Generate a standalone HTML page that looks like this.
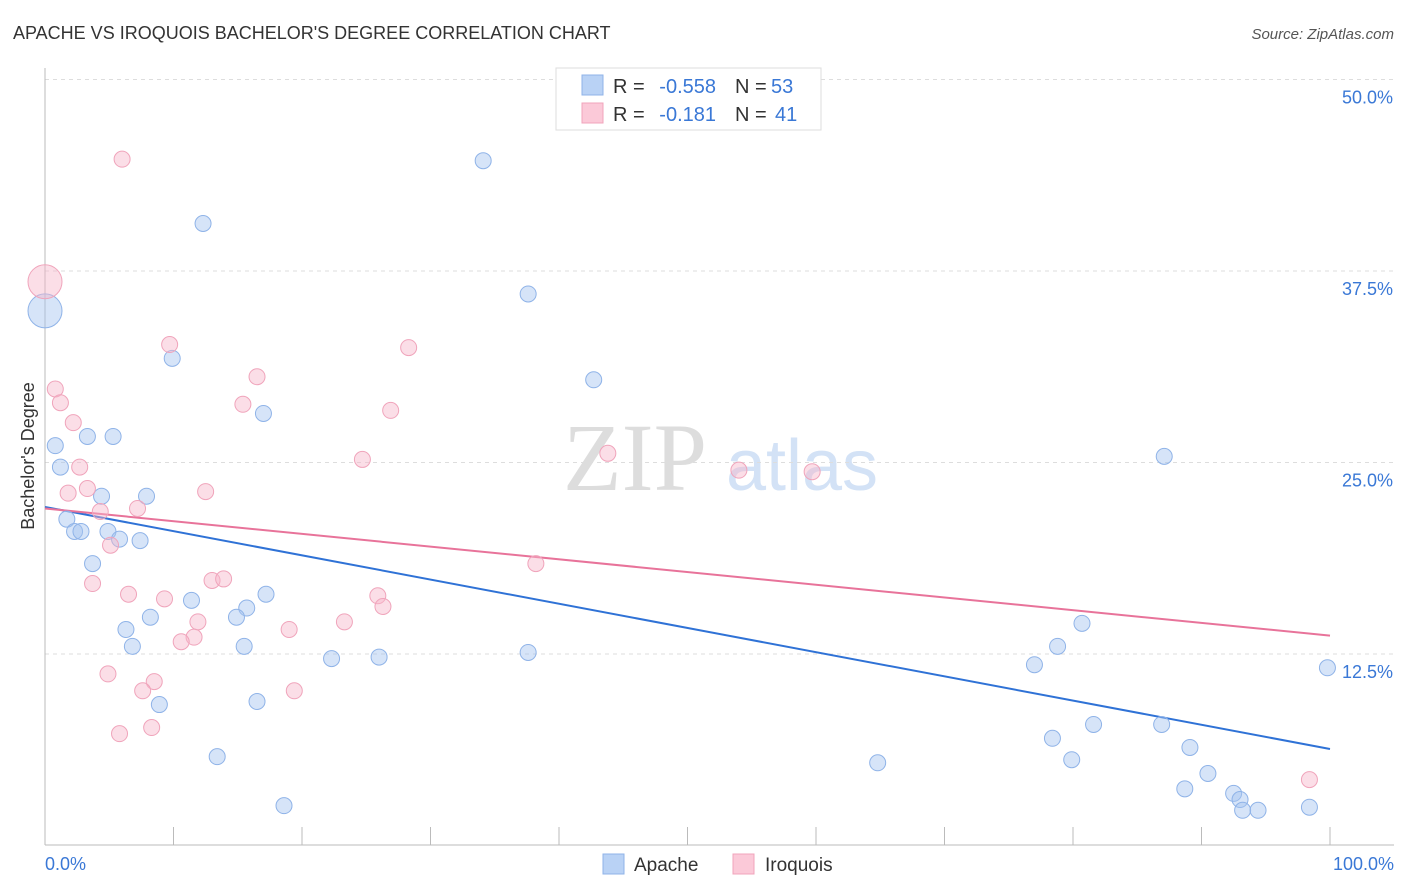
<!DOCTYPE html>
<html><head><meta charset="utf-8"><style>
body{margin:0;background:#fff;font-family:"Liberation Sans",sans-serif}
svg{display:block}
</style></head><body>
<svg id="chart" width="1406" height="892">
<text x="13" y="39" font-size="18" fill="#333">APACHE VS IROQUOIS BACHELOR'S DEGREE CORRELATION CHART</text>
<text x="1394" y="39" font-size="15" fill="#555" font-style="italic" text-anchor="end">Source: ZipAtlas.com</text>
<text x="635" y="490" font-size="96" fill="#ddd" font-family="Liberation Serif,serif" text-anchor="middle">ZIP</text>
<text x="802" y="490" font-size="72" fill="#d3e2f6" text-anchor="middle">atlas</text>
<text transform="translate(34,456) rotate(-90)" font-size="18" fill="#333" text-anchor="middle">Bachelor's Degree</text>
<g id="grid"></g><g id="lines"></g><g id="pts"></g>
<g>
<rect x="556" y="68" width="265" height="62" fill="#fff" stroke="#ddd"/>
<rect x="582" y="75" width="21" height="20" fill="#b9d2f5" stroke="#8fb3e8"/>
<rect x="582" y="103" width="21" height="20" fill="#fbc9d8" stroke="#f0a4bb"/>
<text x="613" y="93" font-size="20" fill="#333">R =</text>
<text x="716" y="93" font-size="20" fill="#3a78d6" text-anchor="end">-0.558</text>
<text x="735" y="93" font-size="20" fill="#333">N =</text>
<text x="771" y="93" font-size="20" fill="#3a78d6">53</text>
<text x="613" y="121" font-size="20" fill="#333">R =</text>
<text x="716" y="121" font-size="20" fill="#3a78d6" text-anchor="end">-0.181</text>
<text x="735" y="121" font-size="20" fill="#333">N =</text>
<text x="775" y="121" font-size="20" fill="#3a78d6">41</text>
</g>
<g>
<rect x="603" y="854" width="21" height="20" fill="#b9d2f5" stroke="#8fb3e8"/>
<text x="634" y="871" font-size="19" fill="#333">Apache</text>
<rect x="733" y="854" width="21" height="20" fill="#fbc9d8" stroke="#f0a4bb"/>
<text x="765" y="871" font-size="19" fill="#333">Iroquois</text>
</g>
</svg>
<script>
const yTicks=[12.5,25,37.5,50];
const yTickLabels=["12.5%","25.0%","37.5%","50.0%"];
const apacheX=[0,34.1,12.3,37.6,9.9,42.7,17.0,0.8,3.3,5.3,1.2,4.4,7.9,1.7,2.3,2.8,4.9,5.8,7.4,3.7,17.2,11.4,15.7,14.9,8.2,6.3,6.8,15.5,22.3,26.0,37.6,8.9,16.5,13.4,18.6,64.8,87.1,80.7,78.8,77.0,99.8,81.6,86.9,78.4,79.9,89.1,90.5,88.7,92.5,93.0,93.2,94.4,98.4];
const apacheY=[34.9,44.7,40.6,36.0,31.8,30.4,28.2,26.1,26.7,26.7,24.7,22.8,22.8,21.3,20.5,20.5,20.5,20.0,19.9,18.4,16.4,16.0,15.5,14.9,14.9,14.1,13.0,13.0,12.2,12.3,12.6,9.2,9.4,5.8,2.6,5.4,25.4,14.5,13.0,11.8,11.6,7.9,7.9,7.0,5.6,6.4,4.7,3.7,3.4,3.0,2.3,2.3,2.5];
const iroqX=[0,6.0,9.7,28.3,16.5,0.8,1.2,15.4,26.9,2.2,2.7,24.7,43.8,54.0,59.7,3.3,1.8,12.5,4.3,7.2,5.1,38.2,3.7,13.0,13.9,6.5,9.3,25.9,26.3,11.9,23.3,19.0,11.6,10.6,4.9,8.5,7.6,19.4,8.3,5.8,98.4];
const iroqY=[36.8,44.8,32.7,32.5,30.6,29.8,28.9,28.8,28.4,27.6,24.7,25.2,25.6,24.5,24.4,23.3,23.0,23.1,21.8,22.0,19.6,18.4,17.1,17.3,17.4,16.4,16.1,16.3,15.6,14.6,14.6,14.1,13.6,13.3,11.2,10.7,10.1,10.1,7.7,7.3,4.3];
const apacheTrend=[22.1,6.3];
const iroqTrend=[22.0,13.7];
const NS="http://www.w3.org/2000/svg";
const X=v=>45+v*12.85, Y=v=>845.5-v*15.32;
function mk(t,a,p){const e=document.createElementNS(NS,t);for(const k in a)e.setAttribute(k,a[k]);p.appendChild(e);return e;}
const g=document.getElementById('grid');
yTicks.forEach((t,i)=>{
 const l=mk('line',{x1:45,x2:1394,y1:Y(t),y2:Y(t),stroke:'#ddd','stroke-dasharray':'4,4'},g);
 
 
 const tx=mk('text',{x:1393,y:Y(t)+24,'font-size':18,fill:'#3a78d6','text-anchor':'end'},g);
 tx.textContent=yTickLabels[i];
 
 
});
const ax=mk('line',{x1:45,x2:1394,y1:845,y2:845,stroke:'#bbb'},g);


const ay=mk('line',{x1:45,x2:45,y1:68,y2:845,stroke:'#bbb'},g);


for(let i=1;i<=10;i++){const t=mk('line',{x1:X(i*10),x2:X(i*10),y1:827,y2:845,stroke:'#bbb'},g);
 
 }
const xl=mk('text',{x:45,y:870,'font-size':18,fill:'#3a78d6'},g);xl.textContent='0.0%';


const xr=mk('text',{x:1394,y:870,'font-size':18,fill:'#3a78d6','text-anchor':'end'},g);xr.textContent='100.0%';


const pts=document.getElementById('pts');
function series(xs,ys,fill,stroke,name){xs.forEach((x,i)=>{
 const c=mk('circle',{cx:X(x),cy:Y(ys[i]),r:(i===0&&x===0)?17:8,fill:fill,stroke:stroke,'stroke-width':1},pts);
 
 });}
series(apacheX,apacheY,'rgba(164,196,240,0.45)','#8fb3e8','apache-point');
series(iroqX,iroqY,'rgba(246,182,201,0.45)','#f0a4bb','iroquois-point');
const L=document.getElementById('lines');
const t1=mk('line',{x1:X(0),y1:Y(apacheTrend[0]),x2:X(100),y2:Y(apacheTrend[1]),stroke:'#2f72d6','stroke-width':2},L);


const t2=mk('line',{x1:X(0),y1:Y(iroqTrend[0]),x2:X(100),y2:Y(iroqTrend[1]),stroke:'#e8739a','stroke-width':2},L);


</script>
</body></html>
